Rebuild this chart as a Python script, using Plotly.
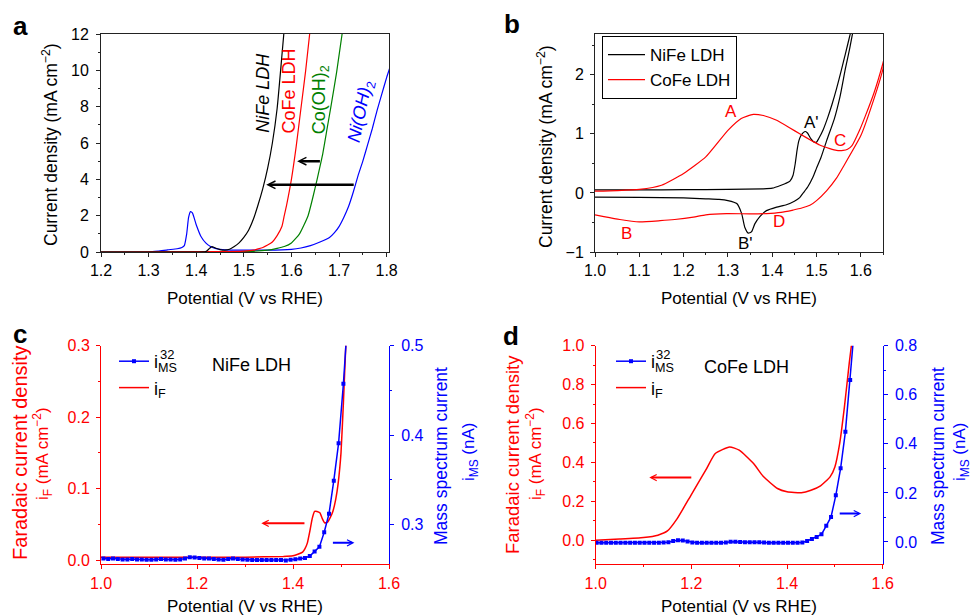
import plotly.graph_objects as go

W, H = 971, 616
FONT = "Arial, Liberation Sans, sans-serif"

# ---------------- Panel a: polarization curves ----------------
a_nife_x = [1.20, 1.30, 1.40, 1.42, 1.428, 1.433, 1.44, 1.45, 1.46, 1.47, 1.48, 1.49, 1.50, 1.51,
            1.52, 1.53, 1.54, 1.55, 1.56, 1.57, 1.58, 1.586]
a_nife_y = [0.0, 0.0, 0.0, 0.02, 0.2, 0.3, 0.22, 0.13, 0.1, 0.15, 0.3, 0.5, 0.8, 1.2,
            1.8, 2.6, 3.5, 4.6, 6.0, 7.9, 10.8, 12.6]
a_cofe_x = [1.20, 1.45, 1.50, 1.52, 1.53, 1.54, 1.55, 1.56, 1.57, 1.58, 1.585, 1.59, 1.60, 1.61,
            1.62, 1.63, 1.64]
a_cofe_y = [0.0, 0.02, 0.05, 0.1, 0.17, 0.25, 0.38, 0.55, 0.9, 1.4, 2.0, 2.6, 4.0, 5.8,
            7.9, 10.0, 12.4]
a_cooh_x = [1.20, 1.50, 1.55, 1.57, 1.585, 1.60, 1.617, 1.635, 1.645, 1.654, 1.665, 1.675, 1.683,
            1.695, 1.707]
a_cooh_y = [0.0, 0.02, 0.1, 0.2, 0.3, 0.5, 1.0, 2.0, 3.0, 4.0, 5.3, 6.8, 8.0, 9.9, 12.1]
a_nioh_x = [1.20, 1.30, 1.32, 1.34, 1.36, 1.37, 1.375, 1.38, 1.384, 1.388, 1.392, 1.40, 1.41, 1.42,
            1.43, 1.44, 1.45, 1.46, 1.50, 1.55, 1.60, 1.62, 1.64, 1.66, 1.68, 1.69, 1.70, 1.71,
            1.72, 1.73, 1.74, 1.75, 1.76, 1.77, 1.78, 1.79, 1.80, 1.81]
a_nioh_y = [0.0, 0.0, 0.05, 0.12, 0.18, 0.25, 0.35, 1.0, 1.9, 2.22, 2.15, 1.5, 0.85, 0.5,
            0.3, 0.2, 0.15, 0.12, 0.1, 0.1, 0.15, 0.22, 0.35, 0.55, 0.8, 1.05, 1.4, 1.9,
            2.5, 3.3, 4.2, 5.0, 5.9, 6.8, 7.8, 8.7, 9.6, 10.4]

# ---------------- Panel b: cyclic voltammograms ----------------
b_nife_x = [1.00, 1.10, 1.20, 1.30, 1.38, 1.40, 1.42, 1.43, 1.44, 1.447, 1.452, 1.456, 1.46, 1.464,
            1.47, 1.475, 1.48, 1.487, 1.495, 1.50, 1.505, 1.515, 1.525, 1.535, 1.545, 1.555, 1.565,
            1.578, 1.59,
            1.585, 1.575, 1.565, 1.553, 1.54, 1.523, 1.51, 1.50, 1.492, 1.48, 1.47, 1.462, 1.45,
            1.432, 1.41, 1.387, 1.372, 1.361, 1.353, 1.346, 1.338, 1.331, 1.32, 1.30, 1.28, 1.25,
            1.20, 1.10, 1.00]
b_nife_y = [0.05, 0.05, 0.055, 0.06, 0.07, 0.08, 0.13, 0.16, 0.2, 0.3, 0.5, 0.72, 0.88, 0.96,
            1.02, 1.04, 1.01, 0.92, 0.86, 0.86, 0.92, 1.07, 1.27, 1.5, 1.76, 2.05, 2.35,
            2.75, 3.1,
            2.85, 2.45, 2.1, 1.63, 1.25, 0.89, 0.6, 0.42, 0.27, 0.1, 0.0, -0.08, -0.14,
            -0.2, -0.24, -0.3, -0.4, -0.52, -0.66, -0.68, -0.58, -0.35, -0.18, -0.13, -0.11, -0.1,
            -0.085, -0.075, -0.07]
b_cofe_x = [1.00, 1.05, 1.10, 1.15, 1.20, 1.25, 1.30, 1.33, 1.357, 1.38, 1.41, 1.44, 1.462, 1.49,
            1.507, 1.53, 1.545, 1.56, 1.57, 1.58, 1.597, 1.61, 1.63, 1.65, 1.66,
            1.65, 1.63, 1.60, 1.56, 1.545, 1.523, 1.50, 1.485, 1.465, 1.447, 1.42, 1.387, 1.35,
            1.297, 1.25, 1.222, 1.18, 1.147, 1.10, 1.056, 1.02, 1.00]
b_cofe_y = [0.03, 0.04, 0.06, 0.13, 0.33, 0.61, 1.06, 1.26, 1.33, 1.31, 1.23, 1.1, 1.0, 0.88,
            0.81, 0.75, 0.72, 0.72, 0.74, 0.8, 1.06, 1.3, 1.7, 2.2, 2.5,
            2.1, 1.6, 0.97, 0.44, 0.25, 0.04, -0.13, -0.21, -0.26, -0.29, -0.33, -0.35, -0.355,
            -0.35, -0.37, -0.41, -0.45, -0.47, -0.49, -0.45, -0.4, -0.37]

# ---------------- Panel c: NiFe LDH DEMS ----------------
c_if_x = [1.00, 1.10, 1.20, 1.30, 1.38, 1.40, 1.41, 1.42, 1.425, 1.43, 1.435, 1.44, 1.445, 1.45,
          1.456, 1.461, 1.466, 1.472, 1.478, 1.483, 1.489, 1.494, 1.50, 1.505, 1.51, 1.513]
c_if_y = [0.004, 0.004, 0.004, 0.004, 0.005, 0.006, 0.008, 0.011, 0.016, 0.024, 0.04, 0.058, 0.068,
          0.068, 0.066, 0.058, 0.052, 0.053, 0.06, 0.068, 0.085, 0.107, 0.15, 0.22, 0.3, 0.34]
c_ms_x = [1.005, 1.015, 1.025, 1.035, 1.045, 1.055, 1.065, 1.075, 1.085, 1.095, 1.105, 1.115, 1.125,
          1.135, 1.145, 1.155, 1.165, 1.175, 1.185, 1.195, 1.205, 1.215, 1.225, 1.235, 1.245, 1.255,
          1.265, 1.275, 1.285, 1.295, 1.305, 1.315, 1.325, 1.335, 1.345, 1.355, 1.365, 1.375, 1.385,
          1.395, 1.405, 1.415, 1.425, 1.435, 1.445, 1.455, 1.465, 1.475, 1.485, 1.495, 1.505, 1.515]
c_ms_y = [0.262, 0.2615, 0.262, 0.2615, 0.261, 0.261, 0.2615, 0.261, 0.261, 0.2605, 0.2605, 0.261,
          0.2615, 0.261, 0.261, 0.2605, 0.261, 0.262, 0.2635, 0.263, 0.2625, 0.262, 0.262, 0.2615,
          0.261, 0.2605, 0.2615, 0.262, 0.2615, 0.261, 0.2605, 0.2603, 0.2603, 0.2603, 0.2603,
          0.2603, 0.2603, 0.2603, 0.2597, 0.2605, 0.2612, 0.262, 0.2625, 0.2648, 0.2697, 0.275,
          0.2914, 0.312, 0.349, 0.391, 0.4575, 0.54]

# ---------------- Panel d: CoFe LDH DEMS ----------------
d_if_x = [1.00, 1.05, 1.10, 1.13, 1.15, 1.17, 1.20, 1.23, 1.25, 1.28, 1.30, 1.33, 1.35, 1.38, 1.40,
          1.43, 1.45, 1.47, 1.49, 1.50, 1.51, 1.52, 1.53, 1.537]
d_if_y = [0.0, 0.006, 0.014, 0.026, 0.048, 0.11, 0.235, 0.36, 0.446, 0.48, 0.463, 0.394, 0.329,
          0.266, 0.249, 0.244, 0.257, 0.28, 0.326, 0.377, 0.497, 0.686, 0.909, 1.05]
d_ms_x = [1.002, 1.012, 1.022, 1.032, 1.042, 1.052, 1.062, 1.072, 1.082, 1.092, 1.102, 1.112, 1.122,
          1.132, 1.142, 1.152, 1.162, 1.172, 1.182, 1.192, 1.202, 1.212, 1.222, 1.232, 1.242, 1.252,
          1.262, 1.272, 1.282, 1.292, 1.302, 1.312, 1.322, 1.332, 1.342, 1.352, 1.362, 1.372, 1.382,
          1.392, 1.402, 1.412, 1.422, 1.432, 1.442, 1.452, 1.462, 1.472, 1.482, 1.492, 1.502, 1.512,
          1.522, 1.532, 1.542]
d_ms_y = [-0.003, -0.003, -0.003, -0.003, -0.003, -0.003, -0.003, -0.003, -0.003, -0.003, -0.003,
          -0.003, -0.003, -0.003, -0.002, -0.001, 0.004, 0.007, 0.006, 0.002, -0.002, -0.003, -0.003,
          -0.003, -0.003, -0.003, -0.003, -0.002, 0.001, 0.001, 0.0, -0.001, -0.001, -0.001, -0.001,
          -0.002, -0.003, -0.003, -0.003, -0.003, -0.003, -0.003, -0.003, -0.002, 0.004, 0.012, 0.02,
          0.031, 0.066, 0.102, 0.19, 0.30, 0.449, 0.66, 0.9]

RED = "#ff0000"
BLUE = "#0000ff"
GREEN = "#008000"
BLACK = "#000000"


def px(x):
    return x / W


def py(y):
    return 1 - y / H


fig = go.Figure()

# Panel a traces
for xs, ys, col in [(a_nioh_x, a_nioh_y, BLUE), (a_cooh_x, a_cooh_y, GREEN),
                    (a_cofe_x, a_cofe_y, RED), (a_nife_x, a_nife_y, BLACK)]:
    fig.add_trace(go.Scatter(x=xs, y=ys, mode="lines", line=dict(color=col, width=1.2, shape="spline", smoothing=0.5),
                             xaxis="x", yaxis="y", showlegend=False))

# Panel b traces
fig.add_trace(go.Scatter(x=b_nife_x, y=b_nife_y, mode="lines", name="NiFe LDH",
                         line=dict(color=BLACK, width=1.2, shape="spline", smoothing=0.5),
                         xaxis="x2", yaxis="y2", legend="legend2"))
fig.add_trace(go.Scatter(x=b_cofe_x, y=b_cofe_y, mode="lines", name="CoFe LDH",
                         line=dict(color=RED, width=1.2, shape="spline", smoothing=0.5),
                         xaxis="x2", yaxis="y2", legend="legend2"))

# Panel c traces
fig.add_trace(go.Scatter(x=c_ms_x, y=c_ms_y, mode="lines+markers", name="i<sub>MS</sub>",
                         line=dict(color=BLUE, width=1.5), marker=dict(symbol="square", size=4, color=BLUE),
                         xaxis="x3", yaxis="y5", legend="legend3"))
fig.add_trace(go.Scatter(x=c_if_x, y=c_if_y, mode="lines", name="i<sub>F</sub>",
                         line=dict(color=RED, width=1.5, shape="spline", smoothing=0.4),
                         xaxis="x3", yaxis="y3", legend="legend3"))

# Panel d traces
fig.add_trace(go.Scatter(x=d_ms_x, y=d_ms_y, mode="lines+markers", name="i<sub>MS</sub>",
                         line=dict(color=BLUE, width=1.5), marker=dict(symbol="square", size=4, color=BLUE),
                         xaxis="x4", yaxis="y6", legend="legend4"))
fig.add_trace(go.Scatter(x=d_if_x, y=d_if_y, mode="lines", name="i<sub>F</sub>",
                         line=dict(color=RED, width=1.5, shape="spline", smoothing=0.5),
                         xaxis="x4", yaxis="y4", legend="legend4"))


def ax(color, rng, dtick, minor, domain, tick0=None, fmt=".1f", mirror=False, standoff=0, **kw):
    d = dict(domain=domain, range=rng, dtick=dtick, tick0=tick0 if tick0 is not None else rng[0],
             ticks="outside", ticklen=4, tickwidth=1, tickcolor=color,
             minor=dict(dtick=minor, ticks="outside", ticklen=2, tickcolor=color, tickwidth=1),
             showline=True, linecolor=color, linewidth=1, mirror=mirror,
             showgrid=False, zeroline=False, tickformat=fmt, automargin=False,
             ticklabelstandoff=standoff,
             tickfont=dict(family=FONT, size=16, color=color), fixedrange=True)
    d.update(kw)
    return d


def topax(domain, anchor, over):
    return dict(domain=domain, range=[1.0, 1.6], overlaying=over, side="top", anchor=anchor,
                showline=True, linecolor=BLUE, linewidth=1, ticks="inside", ticklen=3,
                tickcolor=BLUE, dtick=0.1, tick0=1.0, showticklabels=False, showgrid=False,
                zeroline=False, fixedrange=True, automargin=False)


dom_ax = [px(101), px(389)]
dom_bx = [px(595), px(883)]
dom_top = [py(252), py(34)]
dom_cx = [px(101), px(389)]
dom_dx = [px(595.7), px(882.7)]
dom_bot = [py(564.3), py(345.7)]

FR = "#222222"
BLK_TF = dict(family=FONT, size=16, color=BLACK)
fig.update_layout(
    width=W, height=H, margin=dict(l=0, r=0, t=0, b=0, autoexpand=False),
    paper_bgcolor="white", plot_bgcolor="white",
    font=dict(family=FONT, size=16, color=BLACK),
    xaxis=ax(FR, [1.2, 1.805], 0.1, 0.05, dom_ax, tick0=1.2, mirror=True, anchor="y", tickfont=BLK_TF),
    yaxis=ax(FR, [0, 12], 2, 1, dom_top, tick0=0, fmt="d", mirror=True, anchor="x", tickfont=BLK_TF,
             standoff=4),
    xaxis2=ax(FR, [1.0, 1.65], 0.1, 0.05, dom_bx, tick0=1.0, mirror=True, anchor="y2", tickfont=BLK_TF),
    yaxis2=ax(FR, [-1, 2.69], 1, 0.5, dom_top, tick0=0, fmt="d", mirror=True, anchor="x2", tickfont=BLK_TF,
              standoff=3),
    xaxis3=ax(RED, [1.0, 1.6], 0.2, 0.1, dom_cx, tick0=1.0, anchor="y3"),
    yaxis3=ax(RED, [-0.006, 0.3], 0.1, 0.05, dom_bot, tick0=0, anchor="x3", standoff=3),
    yaxis5=ax(BLUE, [0.2555, 0.5], 0.1, 0.05, dom_bot, tick0=0.3, anchor="x3",
              overlaying="y3", side="right", standoff=4),
    xaxis5=topax(dom_cx, "y3", "x3"),
    xaxis4=ax(RED, [1.0, 1.6], 0.2, 0.1, dom_dx, tick0=1.0, anchor="y4"),
    yaxis4=ax(RED, [-0.1235, 1.0], 0.2, 0.1, dom_bot, tick0=0, anchor="x4", standoff=3),
    yaxis6=ax(BLUE, [-0.091, 0.8], 0.2, 0.1, dom_bot, tick0=0, anchor="x4",
              overlaying="y4", side="right", standoff=4),
    xaxis6=topax(dom_dx, "y4", "x4"),
    legend2=dict(x=px(602), y=py(36), xanchor="left", yanchor="top", bgcolor="rgba(255,255,255,0)",
                 bordercolor=BLACK, borderwidth=1, font=dict(family=FONT, size=17, color=BLACK),
                 tracegroupgap=0, itemwidth=37),
    legend3=dict(x=px(114), y=py(343), xanchor="left", yanchor="top", bgcolor="rgba(255,255,255,0)",
                 font=dict(family=FONT, size=18, color=BLACK), tracegroupgap=0, itemwidth=30),
    legend4=dict(x=px(611), y=py(343), xanchor="left", yanchor="top", bgcolor="rgba(255,255,255,0)",
                 font=dict(family=FONT, size=18, color=BLACK), tracegroupgap=0, itemwidth=30),
    showlegend=True,
)

ann = []


def paper_text(text, x, y, size=17, color=BLACK, angle=0, **kw):
    d = dict(text=text, x=px(x), y=py(y), xref="paper", yref="paper", showarrow=False,
             font=dict(family=FONT, size=size, color=color), textangle=angle,
             xanchor="center", yanchor="middle")
    d.update(kw)
    ann.append(d)


# panel letters
paper_text("<b>a</b>", 20, 26, size=26)
paper_text("<b>b</b>", 512, 24, size=26)
paper_text("<b>c</b>", 20, 334, size=26)
paper_text("<b>d</b>", 511, 336, size=26)

# axis titles
cd = "Current density (mA cm<sup>\u22122</sup>)"
paper_text("Potential (V vs RHE)", 245, 298)
paper_text(cd, 50, 145, size=17.5, angle=-90)
paper_text("Potential (V vs RHE)", 739, 298)
paper_text(cd, 545, 147, size=17.5, angle=-90)
paper_text("Potential (V vs RHE)", 245, 606)
paper_text("Potential (V vs RHE)", 739, 606)
paper_text("Faradaic current density", 20, 453, size=20, color=RED, angle=-90)
paper_text("i<sub>F</sub> (mA cm<sup>\u22122</sup>)", 42, 454, color=RED, angle=-90)
paper_text("Faradaic current density", 512, 455, size=18.5, color=RED, angle=-90)
paper_text("i<sub>F</sub> (mA cm<sup>\u22122</sup>)", 535, 454, color=RED, angle=-90)
paper_text("Mass spectrum current", 441, 456, size=17.5, color=BLUE, angle=-90)
paper_text("i<sub>MS</sub> (nA)", 470, 452, color=BLUE, angle=-90)
paper_text("Mass spectrum current", 938, 456, size=17.5, color=BLUE, angle=-90)
paper_text("i<sub>MS</sub> (nA)", 961, 452, color=BLUE, angle=-90)

# sample names and legend superscripts
paper_text("NiFe LDH", 251, 365, size=18)
paper_text("CoFe LDH", 746, 367, size=18)
paper_text("32", 167, 354, size=13)
paper_text("32", 663, 354, size=13)


def data_text(text, x, y, xr, yr, size=17, color=BLACK, angle=0):
    ann.append(dict(text=text, x=x, y=y, xref=xr, yref=yr, showarrow=False,
                    font=dict(family=FONT, size=size, color=color), textangle=angle))


data_text("<i>NiFe LDH</i>", 1.5396, 8.75, "x", "y", size=18, angle=-90)
data_text("CoFe LDH", 1.596, 8.86, "x", "y", size=18, color=RED, angle=-90)
data_text("Co(OH)<sub>2</sub>", 1.663, 8.37, "x", "y", size=18, color=GREEN, angle=-90)
data_text("<i>Ni(OH)</i><sub>2</sub>", 1.746, 7.76, "x", "y", size=18, color=BLUE, angle=-78)

for t, x, y, col in [("A", 1.306, 1.37, RED), ("A'", 1.489, 1.19, BLACK), ("C", 1.553, 0.89, RED),
                     ("B", 1.072, -0.69, RED), ("B'", 1.339, -0.85, BLACK), ("D", 1.415, -0.48, RED)]:
    data_text(t, x, y, "x2", "y2", size=17, color=col)


def arrow(x0, x1, y, xr, yr, color, width=2.5, size=0.6):
    ann.append(dict(x=x1, y=y, ax=x0, ay=y, xref=xr, yref=yr, axref=xr, ayref=yr, text="",
                    showarrow=True, arrowhead=5, arrowsize=size, arrowwidth=width, arrowcolor=color))


arrow(1.663, 1.612, 5.0, "x", "y", BLACK)
arrow(1.734, 1.547, 3.7, "x", "y", BLACK)
arrow(1.427, 1.334, 0.0513, "x3", "y3", RED, width=2)
arrow(1.48, 1.528, 0.024, "x3", "y3", BLUE, width=2)
arrow(1.203, 1.112, 0.322, "x4", "y4", RED, width=2)
arrow(1.507, 1.555, 0.137, "x4", "y4", BLUE, width=2)

fig.update_layout(annotations=ann)
fig.write_html("out.html", config={"displayModeBar": False},
               post_script="document.body.style.margin='0px';document.body.style.overflow='hidden';")
